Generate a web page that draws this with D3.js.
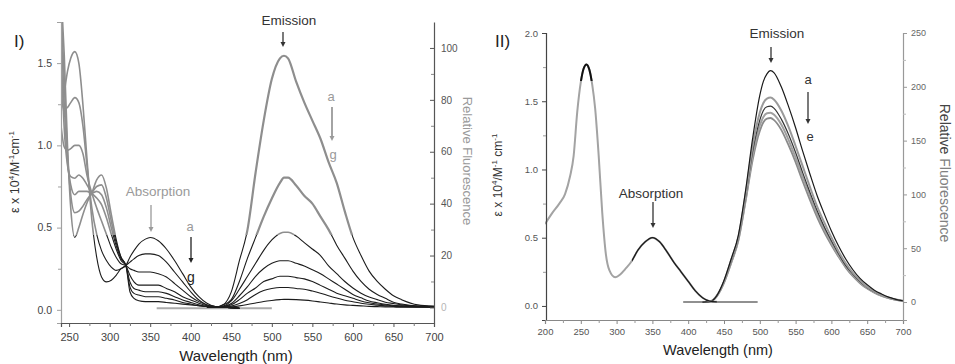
<!DOCTYPE html>
<html>
<head>
<meta charset="utf-8">
<script src="https://cdn.jsdelivr.net/npm/d3@7"></script>
<style>
  body { margin: 0; background: #fff; }
  text { font-family: Arial, "Liberation Sans", sans-serif; }
</style>
</head>
<body>
<svg id="fig" width="955" height="364"></svg>
<script>
// ---- panel I : absorption (left axis), curves a..g
var absWaveI = [240,244,248,252,257,262,267,272,278,284,290,296,302,308,314,320,325,330,336,344,350,360,370,380,390,400,410,420,430,445,460];
var absIa = [1.2,1.32,1.45,1.53,1.57,1.5,1.25,0.92,0.55,0.32,0.2,0.17,0.18,0.21,0.25,0.27,0.32,0.36,0.4,0.43,0.44,0.42,0.37,0.3,0.22,0.14,0.08,0.04,0.02,0.015,0.01];
var absIb = [1.3,1.22,1.23,1.26,1.29,1.26,1.12,0.88,0.62,0.46,0.36,0.3,0.26,0.24,0.25,0.27,0.29,0.31,0.33,0.34,0.34,0.33,0.29,0.23,0.17,0.11,0.06,0.03,0.02,0.015,0.01];
var absIc = [1.12,0.99,0.97,0.98,1.0,1.0,0.95,0.82,0.71,0.62,0.54,0.46,0.38,0.32,0.28,0.27,0.25,0.24,0.23,0.23,0.23,0.22,0.2,0.16,0.12,0.08,0.05,0.03,0.02,0.015,0.01];
var absId = [1.6,1.1,0.88,0.81,0.8,0.82,0.8,0.76,0.71,0.68,0.64,0.56,0.46,0.37,0.3,0.27,0.21,0.17,0.15,0.15,0.15,0.15,0.13,0.11,0.08,0.06,0.04,0.025,0.02,0.015,0.01];
var absIe = [1.75,1.25,0.9,0.76,0.7,0.72,0.72,0.72,0.71,0.72,0.7,0.62,0.5,0.39,0.31,0.27,0.17,0.13,0.12,0.11,0.11,0.11,0.1,0.08,0.06,0.045,0.03,0.02,0.02,0.015,0.01];
var absIf = [1.85,1.4,0.95,0.7,0.59,0.6,0.63,0.67,0.71,0.75,0.76,0.68,0.54,0.41,0.32,0.27,0.14,0.1,0.09,0.08,0.08,0.08,0.07,0.06,0.045,0.035,0.025,0.02,0.02,0.015,0.01];
var absIg = [1.95,1.55,1.0,0.62,0.44,0.5,0.58,0.65,0.71,0.79,0.82,0.74,0.58,0.43,0.32,0.27,0.11,0.07,0.055,0.05,0.05,0.05,0.045,0.04,0.035,0.03,0.025,0.02,0.02,0.015,0.01];

// ---- panel I : emission (right axis), curves a..g
var emWaveI = [420,430,440,450,460,470,480,490,500,510,515,520,530,540,550,560,570,580,590,600,610,620,630,640,650,660,680,700];
var emIa = [0,0,1,6,18,30,52,72,88,96,97,96,87,79,72,65,56,48,37,27,20,14,10,7,4.5,3,1,0.5];
var emIb = [0,0,1,3,10,19,27,35,42,48,50,50,47,43,40,35,30,24,19,14,10,7,5,3.5,2,1.3,0.5,0.3];
var emIc = [0,0,0.5,2.5,7,12,17,22,26,28.5,29,29,27.5,25,22.5,20,16,13,10,7.5,5.5,4,3,2,1.5,1,0.5,0.3];
var emId = [0,0,0.3,1.5,4.5,8,12,15,17,18,18,18,17,16,14.5,13,11,9,7,5,3.7,2.5,1.8,1.2,0.8,0.6,0.3,0.2];
var emIe = [0,0,0.2,1,3,5.5,7.5,10,11,12,12,12,11.5,11,10,8.5,7,5.5,4.5,3.5,2.5,1.8,1.3,1,0.6,0.5,0.3,0.2];
var emIf = [0,0,0.1,0.5,1.5,3,5,6.5,7.3,7.7,7.7,7.7,7.3,7,6.3,5.5,4.5,3.6,2.8,2.2,1.6,1.2,0.9,0.6,0.4,0.3,0.2,0.2];
var emIg = [0,0,0,0.2,0.6,1.1,1.7,2.3,2.7,3,3.1,3.1,3,2.8,2.5,2.1,1.7,1.3,1,0.8,0.6,0.4,0.3,0.2,0.15,0.1,0.1,0.1];
var baseWaveI = [358, 500];
var baseValI = [-0.3, -0.3];

// ---- panel II : absorption (left axis)
var absWaveII = [200,210,220,228,235,240,245,250,254,258,262,266,270,275,280,285,290,298,305,312,320,330,340,350,360,370,380,390,400,410,420,430,440];
var absII = [0.6,0.68,0.75,0.82,0.95,1.1,1.42,1.64,1.74,1.77,1.73,1.62,1.45,1.1,0.68,0.38,0.26,0.21,0.23,0.27,0.32,0.41,0.47,0.5,0.47,0.4,0.32,0.25,0.18,0.11,0.06,0.035,0.03];

// ---- panel II : emission (right axis), curves a..e
var emWaveII = [420,430,440,450,460,470,480,490,500,505,510,515,520,530,540,550,560,570,580,590,600,610,620,630,640,650,660,670,680,690,700];
var emIIa = [0,0.3,6,20,40,62,103,152,192,205,212,215,213,200,182,162,140,119,99,82,66,52,40,30,22,16,11,7.5,4.5,2.5,1.2];
var emIIb = [0,0.3,6,19,39,60,99,145,176,185,189,190,188,178,163,145,126,107,89,74,60,47,36,27,20,14,10,6.5,4,2.3,1.1];
var emIIc = [0,0.3,6,19,38,59,97,140,169,178,181.5,182,180,170,156,139,120,102,85,70,57,45,34,26,19,13.5,9.5,6.3,4,2.2,1.1];
var emIId = [0,0.3,5.5,18,37,58,95,136,164,172,175.5,176,174,165,151,134,116,99,82,68,55,43,33,25,18,13,9,6,3.8,2.1,1];
var emIIe = [0,0.3,5.5,18,36,57,93,132,159,167,170.5,171,169,160,146,130,112,95,79,65,53,42,32,24,17.5,12.5,8.7,5.8,3.7,2,1];
var baseWaveII = [393, 497];
var baseValII = [0, 0];

// tick values
var xTicksI = [250,300,350,400,450,500,550,600,650,700];
var yTicksIL = [0,0.5,1.0,1.5];
var yTicksIR = [0,20,40,60,80,100];
var xTicksII = [200,250,300,350,400,450,500,550,600,650,700];
var yTicksIIL = [0,0.5,1.0,1.5,2.0];
var yTicksIIR = [0,50,100,150,200,250];

var svg = d3.select('#fig');
var defs = svg.append('defs');

function clipRect(id, x, y, w, h) {
  defs.append('clipPath').attr('id', id)
    .append('rect').attr('x', x).attr('y', y).attr('width', w).attr('height', h);
}

function zip(wave, vals) {
  return wave.map(function (w, i) { return [w, vals[i]]; });
}

function drawAxis(g, axis, lineColor, textColor, size) {
  g.call(axis);
  g.select('.domain').attr('stroke', lineColor).attr('stroke-width', 1.2);
  g.selectAll('.tick line').attr('stroke', lineColor);
  g.selectAll('.tick text').attr('fill', textColor)
    .style('font-size', size + 'px')
    .style('font-family', 'Arial, "Liberation Sans", sans-serif');
}

function minorAxis(g, axis, color) {
  g.call(axis);
  g.select('.domain').remove();
  g.selectAll('.tick line').attr('stroke', color);
  g.selectAll('.tick text').remove();
}

function arrow(x, y1, y2, color, w) {
  svg.append('line').attr('x1', x).attr('x2', x).attr('y1', y1).attr('y2', y2 - 4)
    .attr('stroke', color).attr('stroke-width', w || 1.3);
  svg.append('path')
    .attr('d', 'M' + (x - 2.5) + ',' + (y2 - 5) + 'L' + (x + 2.5) + ',' + (y2 - 5) + 'L' + x + ',' + y2 + 'Z')
    .attr('fill', color);
}

function label(x, y, txt, size, color, anchor) {
  return svg.append('text').attr('x', x).attr('y', y)
    .attr('text-anchor', anchor || 'middle')
    .style('font-size', size + 'px').attr('fill', color).text(txt);
}

// ================= PANEL I =================
var xI = d3.scaleLinear().domain([240, 700]).range([61, 434]);
var yIL = d3.scaleLinear().domain([-0.08, 1.75]).range([323, 22]);
var yIR = d3.scaleLinear().domain([-6, 110]).range([323, 22]);

clipRect('clipIup', 61, 22, 373, 213);
clipRect('clipIlo', 61, 235, 373, 88);

var lineIL = d3.line().curve(d3.curveMonotoneX)
  .x(function (d) { return xI(d[0]); }).y(function (d) { return yIL(d[1]); });
var lineIR = d3.line().curve(d3.curveMonotoneX)
  .x(function (d) { return xI(d[0]); }).y(function (d) { return yIR(d[1]); });

var absI = [absIa, absIb, absIc, absId, absIe, absIf, absIg];
var emI = [emIa, emIb, emIc, emId, emIe, emIf, emIg];

// baseline of emission traces
svg.append('path').attr('d', lineIR(zip(baseWaveI, baseValI)))
  .attr('fill', 'none').attr('stroke', '#aaa').attr('stroke-width', 2);

var upI = svg.append('g').attr('clip-path', 'url(#clipIup)');
var loI = svg.append('g').attr('clip-path', 'url(#clipIlo)');

absI.forEach(function (vals) {
  upI.append('path').attr('d', lineIL(zip(absWaveI, vals)))
    .attr('fill', 'none').attr('stroke', '#8e8e8e').attr('stroke-width', 1.6);
  loI.append('path').attr('d', lineIL(zip(absWaveI, vals)))
    .attr('fill', 'none').attr('stroke', '#1c1c1c').attr('stroke-width', 1.1);
});
emI.forEach(function (vals, i) {
  upI.append('path').attr('d', lineIR(zip(emWaveI, vals)))
    .attr('fill', 'none').attr('stroke', '#8e8e8e').attr('stroke-width', i < 2 ? 2.2 : 1.6);
  loI.append('path').attr('d', lineIR(zip(emWaveI, vals)))
    .attr('fill', 'none').attr('stroke', '#1c1c1c').attr('stroke-width', 1.1);
});

// axes panel I
drawAxis(svg.append('g').attr('transform', 'translate(61,0)'),
  d3.axisLeft(yIL).tickValues(yTicksIL).tickSize(4).tickPadding(5).tickFormat(d3.format('.1f')),
  '#a0a0a0', '#444', 10.5);
minorAxis(svg.append('g').attr('transform', 'translate(61,0)'),
  d3.axisLeft(yIL).tickValues([0.25, 0.75, 1.25]).tickSize(3), '#a0a0a0');

drawAxis(svg.append('g').attr('transform', 'translate(0,323)'),
  d3.axisBottom(xI).tickValues(xTicksI).tickSize(4).tickPadding(6).tickFormat(d3.format('d')),
  '#555', '#444', 11);
minorAxis(svg.append('g').attr('transform', 'translate(0,323)'),
  d3.axisBottom(xI).tickValues([275,325,375,425,475,525,575,625,675]).tickSize(3), '#777');

var rAxI = svg.append('g').attr('transform', 'translate(434,0)');
drawAxis(rAxI,
  d3.axisRight(yIR).tickValues(yTicksIR).tickSizeInner(-4).tickSizeOuter(0).tickPadding(7).tickFormat(d3.format('d')),
  '#555', '#555', 10);
rAxI.selectAll('.tick text').filter(function (d) { return d === 0; }).attr('fill', '#b5b5b5');
minorAxis(svg.append('g').attr('transform', 'translate(434,0)'),
  d3.axisRight(yIR).tickValues([10,30,50,70,90]).tickSizeInner(-3).tickSizeOuter(0), '#888');

// titles panel I
label(14, 47, 'I)', 17, '#222', 'start');
var ytI = svg.append('text').attr('transform', 'translate(19,172) rotate(-90)')
  .attr('text-anchor', 'middle').style('font-size', '12.5px').attr('fill', '#333');
ytI.append('tspan').text('\u03b5 x 10');
ytI.append('tspan').attr('dy', -5).style('font-size', '8px').text('4');
ytI.append('tspan').attr('dy', 5).text('/M');
ytI.append('tspan').attr('dy', -5).style('font-size', '8px').text('-1');
ytI.append('tspan').attr('dy', 5).text('cm');
ytI.append('tspan').attr('dy', -5).style('font-size', '8px').text('-1');

svg.append('text').attr('transform', 'translate(463,161) rotate(90)')
  .attr('text-anchor', 'middle').style('font-size', '13px').attr('fill', '#9a9a9a')
  .text('Relative  Fluorescence');
label(236, 361, 'Wavelength (nm)', 15, '#222');

label(289, 25, 'Emission', 13.5, '#333');
arrow(283, 32, 47, '#333');
label(158, 196, 'Absorption', 13.5, '#9a9a9a');
arrow(151, 205, 232, '#9a9a9a');
label(190, 231, 'a', 13, '#9a9a9a');
arrow(191, 237, 263, '#222');
label(191, 282, 'g', 14, '#222');
label(331, 101, 'a', 13, '#9a9a9a');
arrow(332, 107, 141, '#9a9a9a', 1.8);
label(333, 159, 'g', 13, '#9a9a9a');

// ================= PANEL II =================
var xII = d3.scaleLinear().domain([200, 700]).range([545, 903]);
var yIIL = d3.scaleLinear().domain([-0.103, 2]).range([320, 33]);
var yIIR = d3.scaleLinear().domain([-16.7, 250]).range([320, 33]);

clipRect('clipII', 545, 33, 358, 287);
clipRect('clipIIpeak', 574, 33, 22, 48);
clipRect('clipIIblk', 632, 33, 100, 287);

var lineIIL = d3.line().curve(d3.curveMonotoneX)
  .x(function (d) { return xII(d[0]); }).y(function (d) { return yIIL(d[1]); });
var lineIIR = d3.line().curve(d3.curveMonotoneX)
  .x(function (d) { return xII(d[0]); }).y(function (d) { return yIIR(d[1]); });

var gII = svg.append('g').attr('clip-path', 'url(#clipII)');
gII.append('path').attr('d', lineIIR(zip(baseWaveII, baseValII)))
  .attr('fill', 'none').attr('stroke', '#222').attr('stroke-width', 1.1);

var emII = [emIIa, emIIb, emIIc, emIId, emIIe];
var emIIcolor = ['#1a1a1a', '#9a9a9a', '#333', '#a0a0a0', '#8a8a8a'];
var emIIwidth = [1.2, 2, 1.2, 2, 1.8];
[4, 3, 2, 1, 0].forEach(function (i) {
  gII.append('path').attr('d', lineIIR(zip(emWaveII, emII[i])))
    .attr('fill', 'none').attr('stroke', emIIcolor[i]).attr('stroke-width', emIIwidth[i]);
});

gII.append('path').attr('d', lineIIL(zip(absWaveII, absII)))
  .attr('fill', 'none').attr('stroke', '#a3a3a3').attr('stroke-width', 2);
svg.append('g').attr('clip-path', 'url(#clipIIpeak)')
  .append('path').attr('d', lineIIL(zip(absWaveII, absII)))
  .attr('fill', 'none').attr('stroke', '#111').attr('stroke-width', 2);
svg.append('g').attr('clip-path', 'url(#clipIIblk)')
  .append('path').attr('d', lineIIL(zip(absWaveII, absII)))
  .attr('fill', 'none').attr('stroke', '#1a1a1a').attr('stroke-width', 1.3);

// axes panel II
drawAxis(svg.append('g').attr('transform', 'translate(546,0)'),
  d3.axisLeft(yIIL).tickValues(yTicksIIL).tickSize(4).tickPadding(4).tickFormat(d3.format('.1f')),
  '#444', '#555', 9.5);
minorAxis(svg.append('g').attr('transform', 'translate(546,0)'),
  d3.axisLeft(yIIL).tickValues([0.25, 0.75, 1.25, 1.75]).tickSize(3), '#999');

drawAxis(svg.append('g').attr('transform', 'translate(0,320)'),
  d3.axisBottom(xII).tickValues(xTicksII).tickSize(4).tickPadding(4).tickFormat(d3.format('d')),
  '#888', '#555', 9.5);
minorAxis(svg.append('g').attr('transform', 'translate(0,320)'),
  d3.axisBottom(xII).tickValues([225,275,325,375,425,475,525,575,625,675]).tickSize(3), '#999');

drawAxis(svg.append('g').attr('transform', 'translate(903,0)'),
  d3.axisRight(yIIR).tickValues(yTicksIIR).tickSize(4).tickPadding(4).tickFormat(d3.format('d')),
  '#999', '#666', 9);
minorAxis(svg.append('g').attr('transform', 'translate(903,0)'),
  d3.axisRight(yIIR).tickValues([25,75,125,175,225]).tickSize(3), '#bbb');

// titles panel II
label(495, 47, 'II)', 17, '#222', 'start');
var ytII = svg.append('text').attr('transform', 'translate(502,175) rotate(-90)')
  .attr('text-anchor', 'middle').style('font-size', '12px').attr('fill', '#333');
ytII.append('tspan').text('\u03b5 x 10');
ytII.append('tspan').attr('dy', -5).style('font-size', '8px').text('4');
ytII.append('tspan').attr('dy', 5).text('/M');
ytII.append('tspan').attr('dy', -5).style('font-size', '8px').text('-1');
ytII.append('tspan').attr('dy', 5).text(' cm');
ytII.append('tspan').attr('dy', -5).style('font-size', '8px').text('-1');

var rtII = svg.append('text').attr('transform', 'translate(940,173) rotate(90)')
  .attr('text-anchor', 'middle').style('font-size', '14px');
rtII.append('tspan').attr('fill', '#444').text('Relative ');
rtII.append('tspan').attr('fill', '#808080').text('Fluorescence');

label(718, 355, 'Wavelength (nm)', 14.5, '#222');
label(777, 38, 'Emission', 13.5, '#333');
arrow(771, 47, 63, '#333');
label(651, 198, 'Absorption', 13.5, '#333');
arrow(653, 202, 228, '#333');
label(808, 84, 'a', 13, '#333');
arrow(808, 92, 124, '#333');
label(810, 141, 'e', 13, '#333');
</script>
</body>
</html>
